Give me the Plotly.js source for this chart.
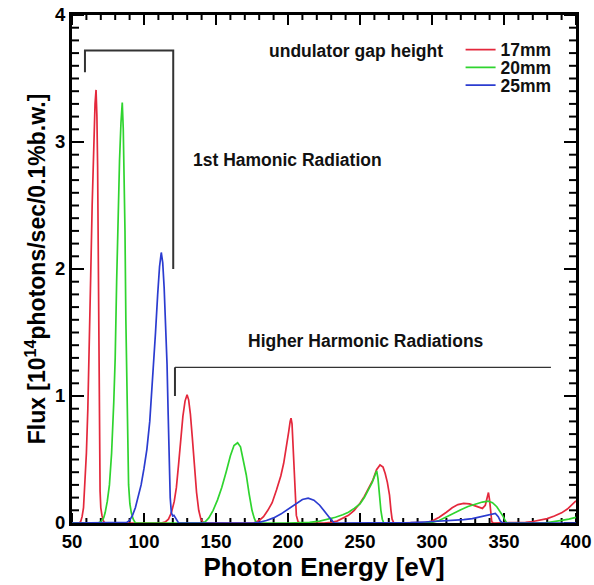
<!DOCTYPE html>
<html>
<head>
<meta charset="utf-8">
<script src="https://cdn.plot.ly/plotly-3.0.1.min.js"></script>
<style>html,body{margin:0;padding:0;background:#fff;}#chart{width:594px;height:585px;}</style>
</head>
<body>
<div id="chart"></div>
<script>
// ---- Data (photon energy [eV], flux [1e14 ph/s/0.1%bw]) ----
const seriesNames = ["17mm", "20mm", "25mm"];
const seriesColors = ["#e4283c", "#2fd42f", "#2b3cd0"];

const red_x = [50, 55, 56, 57, 58, 59, 60, 61, 62, 63, 64, 65, 66, 66.7, 67.3, 67.8, 68.3, 68.7, 69, 69.5, 70, 70.8, 72, 73,
  112, 115, 117, 119, 121, 122.5, 124, 125.5, 127, 128.5, 129.9, 131, 132.2, 133.5, 135, 136.5, 138, 139.5, 141.5,
  176, 180, 183, 186, 189, 192, 195, 197, 199, 200.5, 201.5, 202.1, 202.8, 203.5, 204.2, 205, 205.8, 207, 208,
  225, 230, 234, 238, 242, 246, 250, 253, 256, 259, 261.5, 263.9, 266, 267.5, 269, 270.5, 271.5, 272.3, 273.5,
  290, 296, 300, 305, 310, 314, 318, 322, 326, 330, 333, 335, 337, 338.5, 339.2, 340, 340.8, 341.5, 342.5,
  360, 365, 370, 375, 380, 385, 390, 394, 397, 400];
const red_y = [0, 0, 0.01, 0.05, 0.12, 0.3, 0.55, 0.9, 1.35, 1.95, 2.5, 2.95, 3.3, 3.41, 3.2, 2.8, 2.1, 1.3, 0.6, 0.25, 0.12, 0.06, 0.01, 0,
  0, 0.01, 0.03, 0.08, 0.17, 0.28, 0.46, 0.68, 0.84, 0.96, 1.01, 0.97, 0.86, 0.68, 0.45, 0.24, 0.1, 0.03, 0,
  0, 0.02, 0.05, 0.1, 0.16, 0.26, 0.37, 0.47, 0.6, 0.72, 0.8, 0.825, 0.78, 0.62, 0.44, 0.22, 0.06, 0.01, 0,
  0, 0.005, 0.015, 0.035, 0.06, 0.1, 0.155, 0.21, 0.27, 0.34, 0.42, 0.457, 0.44, 0.39, 0.32, 0.22, 0.1, 0.03, 0,
  0, 0.005, 0.015, 0.045, 0.085, 0.12, 0.145, 0.155, 0.15, 0.135, 0.12, 0.115, 0.14, 0.2, 0.24, 0.18, 0.05, 0.01, 0,
  0, 0.005, 0.012, 0.024, 0.035, 0.055, 0.08, 0.11, 0.14, 0.175];

const green_x = [50, 68, 70, 72, 73, 74.5, 76, 77.5, 79, 80, 81, 82, 83, 84, 84.9, 85.6, 86.2, 86.8, 87.4, 88, 88.6, 89.3, 90.2, 91.2, 92.5, 94,
  140, 142.5, 145, 148, 151, 154, 157, 160, 162.5, 165, 167, 169, 171, 173, 175, 176.5, 178,
  200, 215, 222, 228, 233, 238, 242, 246, 250, 253, 256, 258.5, 260.5, 261.6, 262.5, 263.5, 264.5, 265.5, 266.5,
  295, 300, 305, 310, 315, 320, 325, 330, 335, 339, 342, 345, 347.5, 349.5, 351, 352,
  378, 382, 386, 390, 395, 400];
const green_y = [0, 0, 0.01, 0.04, 0.08, 0.17, 0.3, 0.55, 0.95, 1.3, 1.9, 2.45, 2.85, 3.15, 3.31, 3.1, 2.8, 2.3, 1.6, 1.1, 0.6, 0.3, 0.15, 0.08, 0.03, 0,
  0, 0.01, 0.04, 0.1, 0.18, 0.28, 0.4, 0.53, 0.61, 0.632, 0.6, 0.5, 0.38, 0.23, 0.1, 0.04, 0,
  0, 0.005, 0.015, 0.03, 0.045, 0.065, 0.085, 0.115, 0.15, 0.2, 0.26, 0.32, 0.38, 0.41, 0.35, 0.22, 0.1, 0.03, 0,
  0, 0.005, 0.02, 0.05, 0.08, 0.105, 0.13, 0.15, 0.165, 0.172, 0.16, 0.128, 0.09, 0.05, 0.015, 0,
  0, 0.005, 0.012, 0.02, 0.03, 0.045];

const blue_x = [50, 86, 88, 90, 92, 94, 96, 98, 100, 102, 104, 106, 108, 109.5, 110.8, 112, 113, 114, 115, 116, 116.8, 117.5, 118.2, 119, 120, 120.8, 121.8, 123, 124,
  176, 180, 185, 190, 195, 200, 205, 210, 214, 218, 222, 226, 229, 232,
  275, 285, 295, 305, 315, 322, 328, 333, 338, 342, 344, 346, 347.5, 349, 400];
const blue_y = [0, 0, 0.005, 0.02, 0.06, 0.12, 0.2, 0.3, 0.43, 0.58, 0.8, 1.12, 1.5, 1.8, 2.02, 2.13, 2.05, 1.85, 1.6, 1.25, 0.85, 0.45, 0.2, 0.08, 0.055, 0.06, 0.04, 0.01, 0,
  0, 0.005, 0.02, 0.04, 0.07, 0.11, 0.15, 0.185, 0.195, 0.18, 0.14, 0.08, 0.04, 0,
  0, 0.003, 0.008, 0.013, 0.02, 0.026, 0.035, 0.048, 0.062, 0.075, 0.076, 0.05, 0.015, 0, 0];

// Axis ticks (labelled major ticks and minor step)
const xTickVals = [50, 100, 150, 200, 250, 300, 350, 400];
const xTickText = ["50", "100", "150", "200", "250", "300", "350", "400"];
const yTickVals = [0, 1, 2, 3, 4];
const yTickText = ["0", "1", "2", "3", "4"];
const xMinorStep = 10;
const yMinorStep = 0.1;

// Annotation texts and bracket outlines (data coordinates)
const labelTexts = ["undulator gap height", "1st Hamonic Radiation", "Higher Harmonic Radiations"];
const labelX = [185.5, 132.5, 170.8];
const labelY = [3.72, 2.86, 1.43];
const bracket1_x = [59, 59, 120.3, 120.3];
const bracket1_y = [3.55, 3.72, 3.72, 2.0];
const bracket2_x = [121.5, 121.5, 382.6];
const bracket2_y = [1.0, 1.226, 1.226];

// legend rows (paper y of each legend row top)
const legendRowY = [0.967, 0.932, 0.897];

const FONT = "Liberation Sans, Arial, Helvetica, sans-serif";
const W = 594, H = 585;
const M = {l: 72, r: 18, t: 15, b: 62};
const plotW = W - M.l - M.r, plotH = H - M.t - M.b;
const legendIds = ["legend", "legend2", "legend3"];

function stepsBetween(a, b, step) {
  const out = [];
  const n = Math.round((b - a) / step);
  for (let k = 0; k <= n; k++) out.push(+(a + k * step).toFixed(6));
  return out;
}
const xMin = xTickVals[0], xMax = xTickVals[xTickVals.length - 1];
const yMin = yTickVals[0], yMax = yTickVals[yTickVals.length - 1];
const xMinorVals = stepsBetween(xMin, xMax, xMinorStep);
const yMinorVals = stepsBetween(yMin, yMax, yMinorStep);

// Inside tick marks on all four sides, as one line trace on the axes' own scales
const tickX = [], tickY = [];
function addXTicks(vals, lenPx) {
  const dy = lenPx / plotH * (yMax - yMin);
  vals.forEach(v => {
    tickX.push(v, v, null, v, v, null);
    tickY.push(yMin, yMin + dy, null, yMax, yMax - dy, null);
  });
}
function addYTicks(vals, lenPx) {
  const dx = lenPx / plotW * (xMax - xMin);
  vals.forEach(v => {
    tickX.push(xMin, xMin + dx, null, xMax, xMax - dx, null);
    tickY.push(v, v, null, v, v, null);
  });
}
addXTicks(xMinorVals, 5);
addXTicks(xTickVals, 10);
addYTicks(yMinorVals, 7);
addYTicks(yTickVals, 12);

const tickTrace = {
  type: "scatter", mode: "lines", x: tickX, y: tickY, connectgaps: false,
  line: {color: "#000", width: 2}, showlegend: false, hoverinfo: "skip", name: "ticks"
};

const xs = [red_x, green_x, blue_x];
const ys = [red_y, green_y, blue_y];
const traces = [tickTrace].concat(xs.map((x, i) => ({
  type: "scatter", mode: "lines", name: seriesNames[i],
  x: x, y: ys[i],
  legend: legendIds[i],
  line: {color: seriesColors[i], width: 1.7, shape: "linear"},
  hoverinfo: "x+y+name"
})));

function pathFrom(px, py) {
  return px.map((v, i) => (i === 0 ? "M" : "L") + v + "," + py[i]).join(" ");
}

function legendAt(yy) {
  return {
    x: 0.771, y: yy, xanchor: "left", yanchor: "top",
    bgcolor: "rgba(0,0,0,0)", borderwidth: 0,
    font: {family: FONT, size: 17.5, weight: "bold", color: "#111"},
    itemwidth: 30
  };
}

const tickFont = {family: FONT, size: 18.5, weight: "bold", color: "#000"};

const layout = {
  width: W, height: H,
  margin: {l: M.l, r: M.r, t: M.t, b: M.b, pad: 0},
  paper_bgcolor: "#fff", plot_bgcolor: "#fff",
  font: {family: FONT, color: "#000"},
  showlegend: true,
  legend: legendAt(legendRowY[0]),
  legend2: legendAt(legendRowY[1]),
  legend3: legendAt(legendRowY[2]),
  xaxis: {
    range: [xMin, xMax], autorange: false,
    tickmode: "array", tickvals: xTickVals, ticktext: xTickText, ticks: "",
    showline: true, linewidth: 3, linecolor: "#000", mirror: true,
    showgrid: false, zeroline: false,
    tickfont: tickFont,
    title: {text: "Photon Energy [eV]", font: {family: FONT, size: 26, weight: "bold", color: "#000"}, standoff: 2}
  },
  yaxis: {
    range: [yMin, yMax], autorange: false,
    tickmode: "array", tickvals: yTickVals, ticktext: yTickText, ticks: "",
    showline: true, linewidth: 3, linecolor: "#000", mirror: true,
    showgrid: false, zeroline: false,
    tickfont: tickFont,
    title: {text: "Flux [10<sup>14</sup>photons/sec/0.1%b.w.]", font: {family: FONT, size: 23, weight: "bold", color: "#000"}, standoff: 3}
  },
  shapes: [
    {type: "path", xref: "x", yref: "y", path: pathFrom(bracket1_x, bracket1_y), line: {color: "#333", width: 2}},
    {type: "path", xref: "x", yref: "y", path: pathFrom(bracket2_x.slice(0, 2), bracket2_y.slice(0, 2)), line: {color: "#333", width: 2}},
    {type: "path", xref: "x", yref: "y", path: pathFrom(bracket2_x.slice(1), bracket2_y.slice(1)), line: {color: "#333", width: 1.2}}
  ],
  annotations: labelTexts.map((t, i) => ({
    text: t, x: labelX[i], y: labelY[i], xref: "x", yref: "y",
    xanchor: "left", yanchor: "middle", showarrow: false,
    font: {family: FONT, size: 17.5, weight: "bold", color: "#111"}
  }))
};

Plotly.newPlot("chart", traces, layout, {displayModeBar: false, staticPlot: true});
</script>
</body>
</html>
